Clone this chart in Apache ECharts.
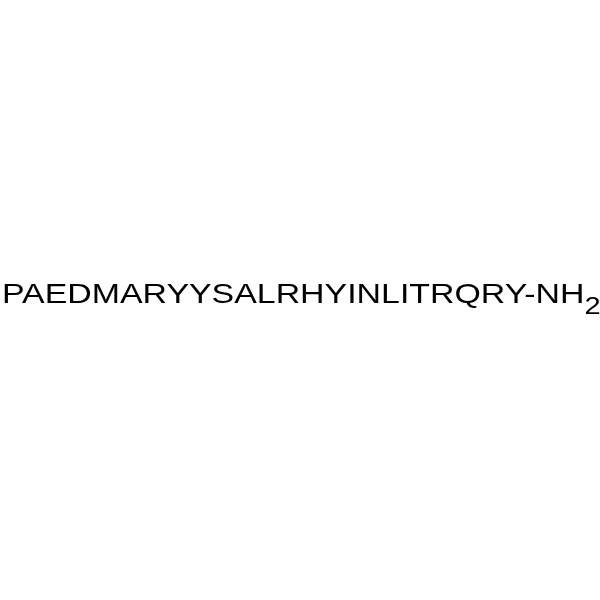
<!DOCTYPE html>
<html>
  <head>
    <meta charset="utf-8" />
    <title>Peptide</title>
    <script src="https://cdn.jsdelivr.net/npm/echarts@6/dist/echarts.min.js"></script>
    <style>
      html, body { margin: 0; padding: 0; background: #fff; }
      #main { width: 600px; height: 600px; }
    </style>
  </head>
  <body>
    <div id="main"></div>
    <script type="text/javascript">
// peptide sequence, one letter per residue
let residues = ['P', 'A', 'E', 'D', 'M', 'A', 'R', 'Y', 'Y', 'S', 'A', 'L', 'R', 'H', 'Y', 'I', 'N', 'L', 'I', 'T', 'R', 'Q', 'R', 'Y'];
let cTerm = ['-', 'NH'];
let cTermSub = ['2'];

var myChart = echarts.init(document.getElementById('main'), null, { renderer: 'canvas' });

// main text + subscript, as rich text
let label = '{m|' + residues.join('') + cTerm.join('') + '}{s|' + cTermSub.join('') + '}';

option = {
  backgroundColor: '#ffffff',
  graphic: [
    {
      type: 'text',
      left: 2,
      top: 281,
      scaleX: 1.21,
      style: {
        text: label,
        fill: '#000',
        rich: {
          m: {
            fontFamily: 'Liberation Sans, Arial, sans-serif',
            fontSize: 28,
            lineHeight: 30,
            verticalAlign: 'top',
            color: '#000'
          },
          s: {
            fontFamily: 'Liberation Sans, Arial, sans-serif',
            fontSize: 24,
            lineHeight: 24,
            padding: [14, 0, 0, 0],
            verticalAlign: 'top',
            color: '#000'
          }
        }
      }
    }
  ]
};
myChart.setOption(option);
    </script>
  </body>
</html>
